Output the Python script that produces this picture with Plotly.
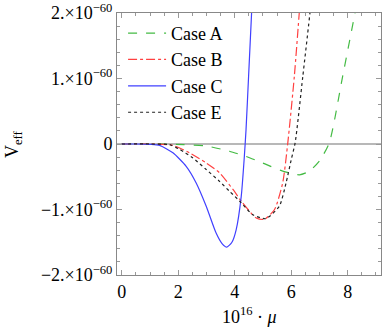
import plotly.graph_objects as go

# values, V in units of 1e-60
mu_a = [0, 1.5, 2.2, 2.99, 3.81, 4.40, 4.99, 5.70, 6.29, 6.64, 7.0, 7.35, 7.82, 8.27, 8.35]
v_a = [0, 0, -0.01, -0.03, -0.11, -0.19, -0.29, -0.415, -0.47, -0.415, -0.26, 0.02, 1.03, 2.03, 2.25]

mu_b = [0, 1.0, 1.4, 1.81, 2.40, 2.99, 3.46, 3.93, 4.28, 4.76, 5.05, 5.41, 5.70, 5.88, 6.11, 6.29, 6.34]
v_b = [0, 0, -0.005, -0.02, -0.135, -0.29, -0.44, -0.69, -0.90, -1.13, -1.15, -1.0, -0.59, 0.02, 1.03, 2.03, 2.3]

mu_c = [0, 0.5, 1.0, 1.34, 1.81, 2.28, 2.63, 2.99, 3.34, 3.55, 3.72, 3.90, 4.05, 4.23, 4.34, 4.40, 4.49, 4.60, 4.63]
v_c = [0, 0, -0.005, -0.02, -0.135, -0.34, -0.59, -0.95, -1.36, -1.52, -1.575, -1.50, -1.31, -0.80, -0.19, 0.22, 1.03, 2.03, 2.3]

mu_e = [0, 1.0, 1.69, 2.04, 2.51, 2.99, 3.46, 3.81, 4.17, 4.64, 5.1, 5.58, 5.82, 6.0, 6.14, 6.41, 6.67, 6.72]
v_e = [0, 0, -0.01, -0.08, -0.21, -0.39, -0.57, -0.72, -0.87, -1.08, -1.14, -0.95, -0.59, -0.24, 0.02, 1.03, 2.03, 2.3]

y_ticks = [-2, -1, 0, 1, 2]
y_labels = ["\u22122.\u00d710<sup>\u221260</sup>", "\u22121.\u00d710<sup>\u221260</sup>", "0",
            "1.\u00d710<sup>\u221260</sup>", "2.\u00d710<sup>\u221260</sup>"]
x_ticks = [0, 2, 4, 6, 8]

serif = "Liberation Serif"

fig = go.Figure()
# zero line
fig.add_trace(go.Scatter(x=[-0.2, 9.2], y=[0, 0], mode="lines", showlegend=False,
                         line=dict(color="#a0a0a0", width=1.5), hoverinfo="skip"))

series = [
    ("Case A", mu_a, v_a, "#44bb44", "dash"),
    ("Case B", mu_b, v_b, "#ff4040", "dashdot"),
    ("Case C", mu_c, v_c, "#4040ff", "solid"),
    ("Case E", mu_e, v_e, "#222222", "dot"),
]
for name, xs, ys, col, dash in series:
    fig.add_trace(go.Scatter(
        x=xs, y=ys, name=name, mode="lines",
        line=dict(color=col, dash=dash, width=1.2, shape="spline", smoothing=0.6),
    ))

axis_common = dict(
    showgrid=False, zeroline=False, showline=True, linecolor="#888888", linewidth=1,
    mirror="ticks", ticks="inside", ticklen=5, tickcolor="#999999",
    tickfont=dict(family=serif, size=18, color="black"),
)
fig.update_xaxes(range=[-0.17, 9.18], tickvals=x_ticks,
                 minor=dict(dtick=0.5, ticks="inside", ticklen=3, tickcolor="#999999"),
                 **axis_common)
fig.update_yaxes(range=[-2, 2], tickvals=y_ticks, ticktext=y_labels,
                 minor=dict(dtick=0.2, ticks="inside", ticklen=3, tickcolor="#999999"),
                 **axis_common)

fig.add_annotation(text="10<sup>16</sup> \u00b7 <i>\u03bc</i>", xref="paper", yref="paper",
                   x=0.5, y=-0.154, yanchor="middle", showarrow=False,
                   font=dict(family=serif, size=18, color="black"))
fig.add_annotation(text="V<sub>eff</sub>", xref="paper", yref="paper",
                   x=-0.445, y=0.5, xanchor="left", textangle=-90, showarrow=False,
                   font=dict(family=serif, size=18, color="black"))

fig.update_layout(
    width=382, height=333,
    margin=dict(l=117, r=1, t=13, b=58),
    plot_bgcolor="white", paper_bgcolor="white",
    legend=dict(x=0.023, y=0.993, xanchor="left", yanchor="top", bgcolor="rgba(0,0,0,0)",
                font=dict(family=serif, size=18, color="black"), itemwidth=38,
                tracegroupgap=0),
)

fig.write_html("out.html", config={"displayModeBar": False},
               post_script="document.body.style.margin='0px';")
